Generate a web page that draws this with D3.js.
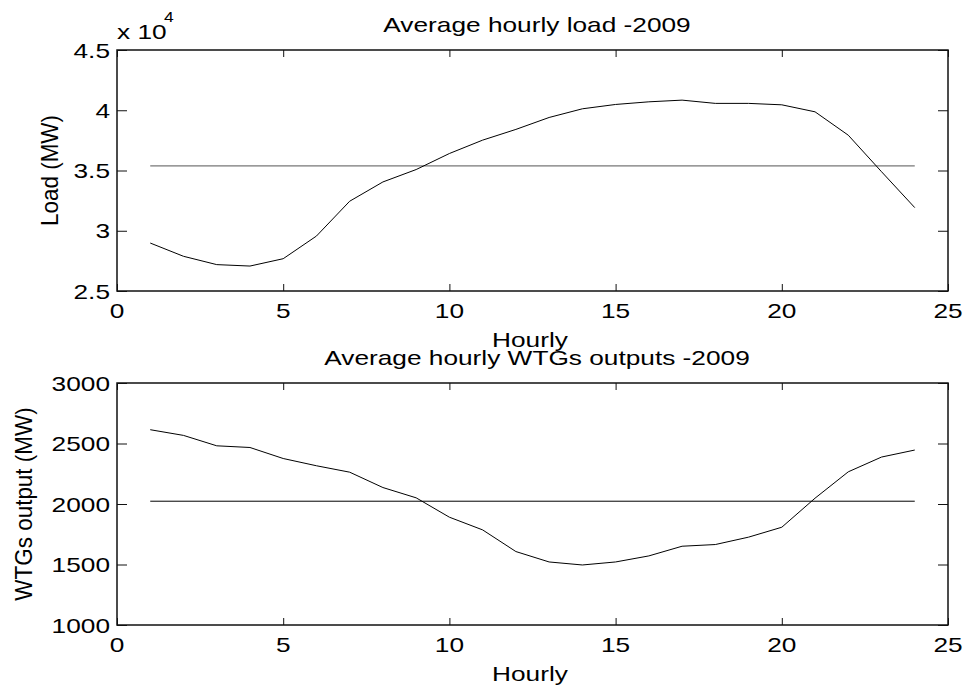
<!DOCTYPE html>
<html><head><meta charset="utf-8">
<script src="https://cdn.jsdelivr.net/npm/d3@7"></script>
<style>
html,body{margin:0;padding:0;background:#fff;}
svg{display:block;}
text{font-family:"Liberation Sans",Arial,Helvetica,sans-serif;fill:#000;}
</style></head>
<body>
<svg id="chart" width="967" height="692"></svg>
<script>
// ---- data ----
const hours = [1,2,3,4,5,6,7,8,9,10,11,12,13,14,15,16,17,18,19,20,21,22,23,24];
const loadMW = [28980,27880,27190,27070,27680,29560,32450,34050,35080,36410,37520,38410,39400,40120,40480,40700,40840,40570,40570,40450,39870,37930,34900,31920];
const loadMean = 35380;
const wtgMW = [2614,2567,2481,2467,2376,2316,2263,2136,2051,1891,1786,1607,1521,1496,1521,1571,1651,1665,1726,1808,2048,2266,2388,2446];
const wtgMean = 2023;
const xTicks = [0,5,10,15,20,25];
const loadTicks = [25000,30000,35000,40000,45000];
const loadTickLabels = ["2.5","3","3.5","4","4.5"];
const wtgTicks = [1000,1500,2000,2500,3000];
const wtgTickLabels = ["1000","1500","2000","2500","3000"];

const SX = 1.25, FS = 21;
const svg = d3.select("#chart");

function txt(g, x, y, s, opts = {}) {
  const tr = opts.rotate
    ? `translate(${x},${y}) rotate(${opts.rotate}) scale(1.07,1.15)`
    : `translate(${x},${y}) scale(${SX},1)`;
  const t = g.append("text")
    .attr("transform", tr)
    .attr("font-size", opts.size || FS)
    .attr("text-anchor", opts.anchor || "middle")
    .text(s);
  if (opts.dy) t.attr("dy", opts.dy);
  return t;
}

function panel(cfg) {
  const x = d3.scaleLinear().domain([0,25]).range([117,948]);
  const y = d3.scaleLinear().domain(cfg.ydom).range([cfg.y1, cfg.y0]);
  const g = svg.append("g");

  // box
  g.append("rect").attr("x", x(0)).attr("y", y(cfg.ydom[1]))
    .attr("width", x(25)-x(0)).attr("height", y(cfg.ydom[0]) - y(cfg.ydom[1]))
    .attr("fill", "none").attr("stroke", "#111").attr("stroke-width", 1.5);

  // axes via d3 (inward ticks)
  const xb = g.append("g").attr("transform", `translate(0,${y(cfg.ydom[0])})`)
    .call(d3.axisBottom(x).tickValues(xTicks).tickSize(-7).tickPadding(0).tickFormat(() => ""));
  const xt = g.append("g").attr("transform", `translate(0,${y(cfg.ydom[1])})`)
    .call(d3.axisTop(x).tickValues(xTicks).tickSize(-7).tickFormat(() => ""));
  const yl = g.append("g").attr("transform", `translate(${x(0)},0)`)
    .call(d3.axisLeft(y).tickValues(cfg.ticks).tickSize(-10).tickFormat(() => ""));
  const yr = g.append("g").attr("transform", `translate(${x(25)},0)`)
    .call(d3.axisRight(y).tickValues(cfg.ticks).tickSize(-10).tickFormat(() => ""));
  [xb,xt,yl,yr].forEach(a => {
    a.select(".domain").remove();
    a.selectAll(".tick line").attr("stroke", "#111").attr("stroke-width", 1);
    a.selectAll(".tick text").remove();
  });

  // tick labels
  xTicks.forEach(v => txt(g, x(v), y(cfg.ydom[0]) + 27, String(v)));
  cfg.ticks.forEach((v, i) => txt(g, x(0) - 7, y(v), cfg.labels[i], {anchor: "end", dy: "0.36em"}));

  // mean line
  g.append("path")
    .attr("d", d3.line()([[x(hours[0]), y(cfg.mean)], [x(hours[hours.length-1]), y(cfg.mean)]]))
    .attr("stroke", cfg.meanColor).attr("stroke-width", 1).attr("fill", "none");

  // data line
  g.append("path").datum(cfg.values)
    .attr("d", d3.line().x((d,i) => x(hours[i])).y(d => y(d)))
    .attr("stroke", "#000").attr("stroke-width", 1).attr("fill", "none");

  // labels
  txt(g, 537, cfg.titleY, cfg.title);
  txt(g, 530, y(cfg.ydom[0]) + 56, "Hourly");
  txt(g, cfg.ylabX, (cfg.y0 + cfg.y1) / 2, cfg.ylabel, {rotate: -90});
  return {g, x, y};
}

const p1 = panel({ydom: [25000,45000], y0: 50, y1: 291, ticks: loadTicks, labels: loadTickLabels,
  values: loadMW, mean: loadMean, meanColor: "#555", title: "Average hourly load -2009", titleY: 32,
  ylabel: "Load (MW)", ylabX: 58});
const p2 = panel({ydom: [1000,3000], y0: 383, y1: 625, ticks: wtgTicks, labels: wtgTickLabels,
  values: wtgMW, mean: wtgMean, meanColor: "#000", title: "Average hourly WTGs outputs -2009", titleY: 365,
  ylabel: "WTGs output (MW)", ylabX: 32});

// exponent label
txt(p1.g, 117, 39, "x 10", {anchor: "start"});
txt(p1.g, 164, 22, "4", {anchor: "start", size: 14});
</script>
</body></html>
